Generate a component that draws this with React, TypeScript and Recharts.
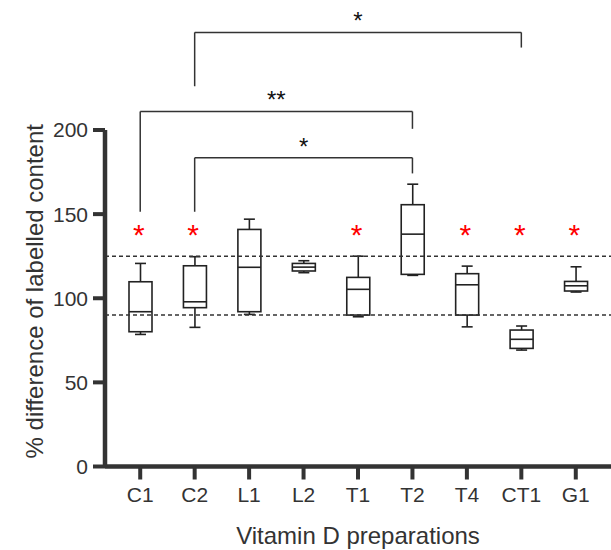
import React from 'react';
import { ComposedChart, Bar, XAxis, YAxis, ReferenceLine, ReferenceDot } from 'recharts';

// ---- data ----
const categories = ['C1', 'C2', 'L1', 'L2', 'T1', 'T2', 'T4', 'CT1', 'G1'];
const whiskerLow = [78.5, 82.7, 90.4, 115.2, 89, 113.6, 83, 69.2, 103.7];
const q1Values = [80.1, 94.4, 92, 116.2, 90, 114.2, 90, 70.2, 104.3];
const medians = [92, 97.9, 118.4, 118.5, 105.3, 138.1, 108, 75.6, 107.4];
const q3Values = [109.8, 119.3, 140.9, 120.7, 112.4, 155.6, 114.6, 81.1, 110];
const whiskerHigh = [120.7, 124.7, 147, 122.3, 125, 167.8, 119.1, 83.5, 118.7];
const limitLines = [90, 125];
const starredCategories = ['C1', 'C2', 'T1', 'T4', 'CT1', 'G1'];
const starLevel = 141;
const yTicks = [0, 50, 100, 150, 200];
const bracketFrom = ['C2', 'C1', 'C2'];
const bracketTo = ['CT1', 'T2', 'T2'];
const bracketTop = [258, 211, 183.5];
const bracketFromEnd = [226, 151.4, 151.4];
const bracketToEnd = [249, 200.7, 174.2];
const bracketLabels = ['*', '**', '*'];

const rows = categories.map((name, i) => ({
  name,
  whisker: [whiskerLow[i], whiskerHigh[i]],
  box: [q1Values[i], q3Values[i]],
  median: [q1Values[i], medians[i]],
}));

const FONT = '"Liberation Sans", Arial, Helvetica, sans-serif';
const INK = '#222';
const AXIS = '#333';

const WhiskerShape = (p: any) => {
  const { x, y, width, height } = p;
  const cx = x + width / 2;
  const cap = 5.5;
  return (
    <g>
      <line x1={cx} x2={cx} y1={y} y2={y + height} stroke={INK} strokeWidth={1.6} />
      <line x1={cx - cap} x2={cx + cap} y1={y} y2={y} stroke={INK} strokeWidth={1.6} />
      <line x1={cx - cap} x2={cx + cap} y1={y + height} y2={y + height} stroke={INK} strokeWidth={1.6} />
    </g>
  );
};

const BoxShape = (p: any) => {
  const { x, y, width, height } = p;
  return <rect x={x} y={y} width={width} height={height} fill="#fff" stroke={INK} strokeWidth={1.6} />;
};

const MedianShape = (p: any) => {
  const { x, y, width } = p;
  return <line x1={x} x2={x + width} y1={y} y2={y} stroke={INK} strokeWidth={1.6} />;
};

const StarShape = (p: any) => {
  const { cx, cy } = p;
  return (
    <text x={cx - 1.5} y={cy + 16} textAnchor="middle" fill="#ff0000" fontSize={30} fontFamily={FONT}>
      *
    </text>
  );
};

const YTitle = (p: any) => {
  const vb = p.viewBox || { x: 0, y: 130, width: 105, height: 336.5 };
  const x = vb.x + 43;
  const y = vb.y + vb.height / 2 - 7;
  return (
    <text x={x} y={y} transform={`rotate(-90 ${x} ${y})`} textAnchor="middle" fontSize={24} fill={AXIS} fontFamily={FONT}>
      % difference of labelled content
    </text>
  );
};

export default function App() {
  return (
    <div style={{ position: 'absolute', left: 0, top: 0, fontFamily: FONT }}>
      <ComposedChart
        width={611}
        height={550}
        data={rows}
        margin={{ top: 130, right: 0, bottom: 0, left: 0 }}
        barGap={-23}
      >
        {limitLines.map((v) => (
          <ReferenceLine key={'lim' + v} y={v} stroke={AXIS} strokeDasharray="4 3" strokeWidth={1.5} />
        ))}
        <XAxis
          dataKey="name"
          interval={0}
          height={83.5}
          padding={{ left: 8, right: 8 }}
          axisLine={{ stroke: AXIS, strokeWidth: 4.5 }}
          tickLine={{ stroke: AXIS, strokeWidth: 4 }}
          tickSize={13}
          tickMargin={8}
          tick={{ fontSize: 21, fill: AXIS, fontFamily: FONT }}
          label={{ value: 'Vitamin D preparations', position: 'insideBottom', offset: 6, fontSize: 24, fill: AXIS, fontFamily: FONT }}
        />
        <YAxis
          domain={[0, 200]}
          ticks={yTicks}
          width={105}
          axisLine={{ stroke: AXIS, strokeWidth: 4.5 }}
          tickLine={{ stroke: AXIS, strokeWidth: 4 }}
          tickSize={12}
          tickMargin={5}
          tick={{ fontSize: 21, fill: AXIS, fontFamily: FONT }}
          label={(p: any) => <YTitle {...p} />}
        />
        <Bar dataKey="whisker" barSize={23} shape={WhiskerShape} isAnimationActive={false} />
        <Bar dataKey="box" barSize={23} shape={BoxShape} isAnimationActive={false} />
        <Bar dataKey="median" barSize={23} shape={MedianShape} isAnimationActive={false} />
        {starredCategories.map((c) => (
          <ReferenceDot key={'star' + c} x={c} y={starLevel} r={5} ifOverflow="visible" shape={StarShape} />
        ))}
        {bracketFrom.map((from, i) => [
          <ReferenceLine
            key={'bl' + i}
            segment={[{ x: from, y: bracketFromEnd[i] }, { x: from, y: bracketTop[i] }]}
            stroke={AXIS}
            strokeWidth={1.5}
            ifOverflow="visible"
          />,
          <ReferenceLine
            key={'bh' + i}
            segment={[{ x: from, y: bracketTop[i] }, { x: bracketTo[i], y: bracketTop[i] }]}
            stroke={AXIS}
            strokeWidth={1.5}
            ifOverflow="visible"
            label={{ value: bracketLabels[i], position: 'top', offset: 3, fontSize: 24, fill: '#111', fontFamily: FONT }}
          />,
          <ReferenceLine
            key={'br' + i}
            segment={[{ x: bracketTo[i], y: bracketToEnd[i] }, { x: bracketTo[i], y: bracketTop[i] }]}
            stroke={AXIS}
            strokeWidth={1.5}
            ifOverflow="visible"
          />,
        ])}
      </ComposedChart>
    </div>
  );
}
